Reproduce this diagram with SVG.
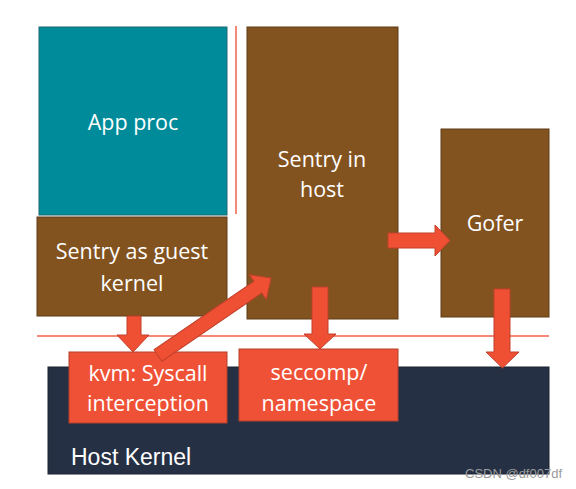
<svg xmlns="http://www.w3.org/2000/svg" width="576" height="489" viewBox="0 0 576 489">
<style>
.brown{fill:#83531F;stroke:#5E3C16;stroke-width:1}
.teal{fill:#008B9A;stroke:#1B6B73;stroke-width:1}
.red{fill:#EF5136;stroke:#B5402A;stroke-width:1}
.host{fill:#253044;stroke:#1A2230;stroke-width:1}
.arr{fill:#EF5034;stroke:#C0402A;stroke-width:1}
.sep{stroke:#F0604A;stroke-width:1.5;fill:none}
.t{font-family:"Open Sans",Lato,sans-serif;font-size:21.5px;fill:#FFFFFF;text-anchor:middle}
.hk{font-family:"Liberation Sans",Arial,sans-serif;font-size:23px;fill:#FFFFFF}
.wm{font-family:"Liberation Sans",Arial,sans-serif;font-size:13px;fill:#9A9A9A}
</style>
<rect width="576" height="489" fill="#FFFFFF"/>
<g id="host-kernel">
<rect class="host" x="48" y="367" width="501" height="107"/>
<text class="hk" x="71" y="465">Host Kernel</text>
</g>
<g id="app-proc">
<rect class="teal" x="39" y="27" width="188" height="188"/>
<text class="t" x="133" y="130">App proc</text>
</g>
<g id="sentry-guest">
<rect class="brown" x="37" y="217" width="190" height="99"/>
<text class="t" x="132" y="259">Sentry as guest</text>
<text class="t" x="132" y="291">kernel</text>
</g>
<g id="sentry-host">
<rect class="brown" x="247" y="27" width="151" height="292"/>
<text class="t" x="322" y="167">Sentry in</text>
<text class="t" x="322" y="197">host</text>
</g>
<g id="gofer">
<rect class="brown" x="441" y="129" width="108" height="188"/>
<text class="t" x="495" y="231">Gofer</text>
</g>
<g id="kvm">
<rect class="red" x="69" y="352" width="158" height="71"/>
<text class="t" x="148" y="381">kvm: Syscall</text>
<text class="t" x="148" y="411">interception</text>
</g>
<g id="seccomp">
<rect class="red" x="239" y="349" width="159" height="72"/>
<text class="t" x="319" y="380">seccomp/</text>
<text class="t" x="319" y="411">namespace</text>
</g>
<g id="connectors">
<line class="sep" x1="236" y1="26" x2="236" y2="214"/>
<line class="sep" x1="37" y1="336" x2="549" y2="336"/>
<path class="arr" d="M127,316 H141 V335 H149 L133,352 L117,335 H127 Z"/>
<path class="arr" d="M312,287 H328 V334 H336 L320,349 L304,334 H312 Z"/>
<path class="arr" d="M494,289 H510 V352 H519 L502.5,368 L486,352 H494 Z"/>
<path class="arr" d="M388,233 H435 V225 L450,240.5 L435,256 V248 H388 Z"/>
<path class="arr" transform="translate(158,355.5) rotate(-34.4)" d="M0,-7 H121 V-15 L137,0 L121,15 V7 H0 Z"/>
</g>
<text class="wm" x="465" y="478">CSDN @df007df</text>
</svg>
